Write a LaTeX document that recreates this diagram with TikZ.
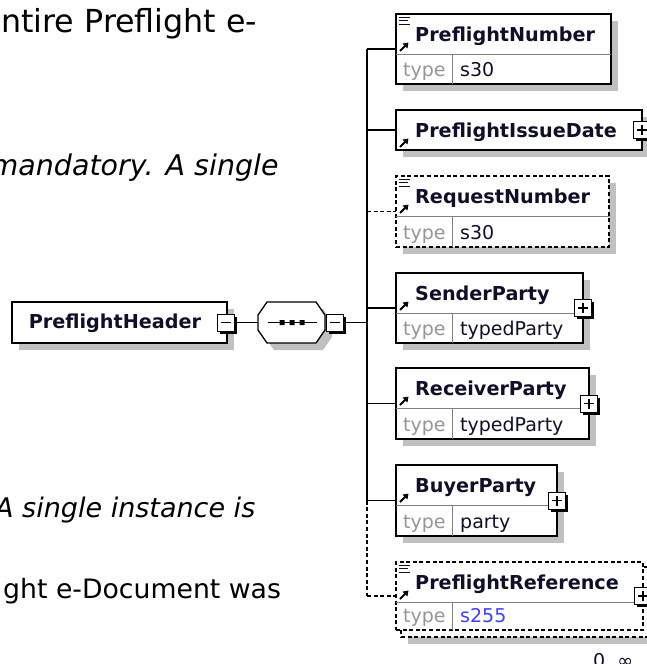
\documentclass[tikz,border=0pt]{standalone}
\usepackage{fontspec}
\setmainfont{DejaVu Sans}
\usetikzlibrary{shadows,arrows.meta}
\definecolor{shgray}{RGB}{192,192,192}
\definecolor{typegray}{RGB}{150,150,150}
\definecolor{namecol}{RGB}{15,15,40}
\definecolor{bluetype}{RGB}{64,64,255}
\definecolor{divgray}{RGB}{128,128,128}
\newcommand\PlusBox[3]{\node[pm] (#1) at (#2,#3) {};
  \draw[line width=1.2pt] ([xshift=-5pt]#1.center) -- ([xshift=5pt]#1.center)
    ([yshift=-5pt]#1.center) -- ([yshift=5pt]#1.center);}
\newcommand\MinusBox[3]{\node[pm] (#1) at (#2,#3) {};
  \draw[line width=1.2pt] ([xshift=-5pt]#1.center) -- ([xshift=5pt]#1.center);}
\newcommand\DocIcon[2]{\draw[line width=1pt,namecol] (#1+3,#2+3) -- ++(11,0) (#1+3,#2+6.5) -- ++(9,0) (#1+3,#2+10) -- ++(11,0);}
\newcommand\RefArrow[2]{\draw[line width=2pt,-{Triangle[length=5pt,width=6.5pt]}] (#1+4,#2-3) -- (#1+12.5,#2-11.5);}
\begin{document}
\begin{tikzpicture}[x=1pt,y=-1pt,
 elbox/.style={draw=black,line width=1.3pt,fill=white,inner sep=0pt,outer sep=0pt,anchor=north west},
 shad/.style={drop shadow={shadow xshift=7pt,shadow yshift=-7pt,fill=shgray,opacity=1}},
 optl/.style={dash pattern=on 4pt off 2.6pt},
 nm/.style={font=\fontsize{19.2}{22}\selectfont\bfseries,text=namecol,inner sep=0pt,anchor=base west},
 tl/.style={font=\fontsize{19}{22}\selectfont,text=typegray,inner sep=0pt,anchor=base west},
 tv/.style={font=\fontsize{19}{22}\selectfont,text=namecol,inner sep=0pt,anchor=base west},
 divl/.style={draw=divgray,line width=0.9pt},
 conn/.style={draw=black,line width=1.3pt},
 pm/.style={draw=black,line width=1pt,fill=white,minimum size=17pt,inner sep=0pt,outer sep=0pt,drop shadow={shadow xshift=2.5pt,shadow yshift=-2.5pt,fill=black,opacity=1}},
 bgtext/.style={text=black,inner sep=0pt,anchor=base west},
]
\useasboundingbox (0,0) rectangle (647,664);
\clip (0,0) rectangle (647,664);

% background text
\node[bgtext,font=\fontsize{31.7}{36}\selectfont] (t1) at (1,32) {ntire Preflight e-};
\node[bgtext,font=\fontsize{28.5}{34}\selectfont\itshape] (t2) at (-9.5,175) {mandatory. A single};
\node[bgtext,font=\fontsize{27}{32}\selectfont\itshape] (t3) at (-5,517) {A single instance is};
\node[bgtext,font=\fontsize{26.7}{32}\selectfont] (t4) at (3,598) {ght e-Document was};

% PreflightNumber
\node[elbox,shad,minimum width=215pt,minimum height=70pt] (pn) at (396,14) {};
\draw[divl] (396,54) -- (611,54) (452,54) -- (452,84);
\DocIcon{396}{14}
\RefArrow{396}{54}
\node[nm] (pn-n) at (415,41) {PreflightNumber};
\node[tl] (pn-tl) at (403,76.5) {type};
\node[tv] (pn-tv) at (460,76.5) {s30};

% PreflightIssueDate
\node[elbox,shad,minimum width=246pt,minimum height=40pt] (pid) at (396,110) {};
\RefArrow{396}{150}
\node[nm] (pid-n) at (415,137) {PreflightIssueDate};

% RequestNumber
\node[elbox,shad,optl,minimum width=213pt,minimum height=71pt] (rn) at (396,176) {};
\draw[divl] (396,216) -- (609,216) (452,216) -- (452,247);
\DocIcon{396}{176}
\RefArrow{396}{216}
\node[nm] (rn-n) at (415,203) {RequestNumber};
\node[tl] (rn-tl) at (403,239.5) {type};
\node[tv] (rn-tv) at (460,239.5) {s30};

% SenderParty
\node[elbox,shad,minimum width=187pt,minimum height=70pt] (sp) at (396,273) {};
\draw[divl] (396,313) -- (583,313) (452,313) -- (452,343);
\RefArrow{396}{313}
\node[nm] (sp-n) at (415,300) {SenderParty};
\node[tl] (sp-tl) at (403,335.5) {type};
\node[tv] (sp-tv) at (460,335.5) {typedParty};

% ReceiverParty
\node[elbox,shad,minimum width=193pt,minimum height=71pt] (rp) at (396,368) {};
\draw[divl] (396,408) -- (589,408) (452,408) -- (452,439);
\RefArrow{396}{408}
\node[nm] (rp-n) at (415,395) {ReceiverParty};
\node[tl] (rp-tl) at (403,431.5) {type};
\node[tv] (rp-tv) at (460,431.5) {typedParty};

% BuyerParty
\node[elbox,shad,minimum width=161pt,minimum height=71pt] (bp) at (396,465) {};
\draw[divl] (396,505) -- (557,505) (452,505) -- (452,536);
\RefArrow{396}{505}
\node[nm] (bp-n) at (415,492) {BuyerParty};
\node[tl] (bp-tl) at (403,528.5) {type};
\node[tv] (bp-tv) at (460,528.5) {party};

% PreflightReference (multiple)
\node[elbox,shad,optl,minimum width=247pt,minimum height=70pt] (pr-back) at (401,567) {};
\node[elbox,optl,minimum width=247pt,minimum height=68pt] (pr) at (396,562) {};
\draw[divl] (396,602) -- (643,602) (452,602) -- (452,630);
\DocIcon{396}{562}
\RefArrow{396}{602}
\node[nm] (pr-n) at (415,589) {PreflightReference};
\node[tl] (pr-tl) at (403,622.5) {type};
\node[tv,text=bluetype] (pr-tv) at (460,622.5) {s255};
\node[tv] (occ) at (593,667) {0..∞};

% PreflightHeader
\node[elbox,shad,minimum width=215pt,minimum height=41pt] (ph) at (12,302) {};
\node[nm,anchor=base] (ph-n) at (115,328) {PreflightHeader};

% sequence compositor
\node[inner sep=0pt,outer sep=0pt,minimum width=67pt,minimum height=41pt] (seq) at (291.5,322.5) {};
\begin{scope}[shift={(7,7)}]
\fill[shgray] (267,302) -- (316,302) -- (325,315) -- (325,330) -- (316,343) -- (267,343) -- (258,330) -- (258,315) -- cycle;
\end{scope}
\draw[line width=1.3pt,fill=white] (267,302) -- (316,302) -- (325,315) -- (325,330) -- (316,343) -- (267,343) -- (258,330) -- (258,315) -- cycle;
\draw[line width=1.3pt] (268,322.5) -- (317,322.5);
\fill (279.5,320) rectangle (284.5,325) (289.5,320) rectangle (294.5,325) (299.5,320) rectangle (304.5,325);

% spine coordinates
\coordinate (sj) at (367,322.5);
\coordinate (s1) at (367,49);
\coordinate (s2) at (367,130);
\coordinate (s3) at (367,211.5);
\coordinate (s4) at (367,308);
\coordinate (s5) at (367,403.5);
\coordinate (s6) at (367,500.5);
\coordinate (s7) at (367,596);

% connectors
\draw[conn] (s1) -- (s6);
\draw[conn,optl] (s6) -- (s7);
\draw[conn] (s1) -- (pn.west);
\draw[conn] (s2) -- (pid.west);
\draw[conn,optl] (s3) -- (rn.west);
\draw[conn] (s4) -- (sp.west);
\draw[conn] (s5) -- (rp.west);
\draw[conn] (s6) -- (bp.west);
\draw[conn,optl] (s7) -- (pr.west);

% expand/collapse boxes
\MinusBox{phm}{226}{322.5}
\MinusBox{seqm}{335}{322.5}
\PlusBox{pidp}{642}{130}
\PlusBox{spp}{583}{308}
\PlusBox{rpp}{589}{403.5}
\PlusBox{bpp}{557}{500.5}
\PlusBox{prp}{643}{596}

\draw[conn] (phm.east) -- (seq.west);
\draw[conn] (seqm.east) -- (sj);
\end{tikzpicture}
\end{document}
